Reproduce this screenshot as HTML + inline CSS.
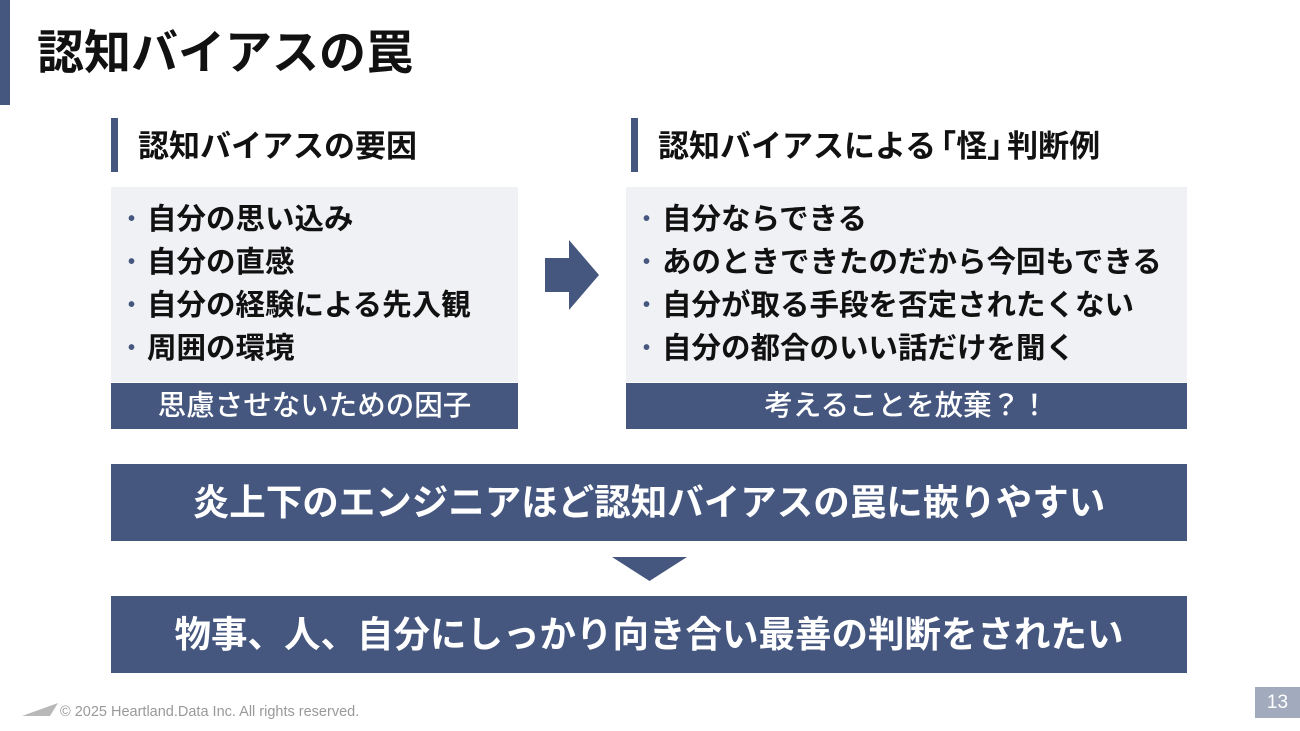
<!DOCTYPE html>
<html><head><meta charset="utf-8"><style>
body{margin:0;width:1300px;height:731px;background:#fff;position:relative;overflow:hidden;font-family:"Liberation Sans","Noto Sans CJK JP",sans-serif;}
div{position:absolute;box-sizing:border-box}
.blue{background:#46577f}
.t{font-weight:bold;color:#111;white-space:nowrap}
.box{background:#f0f1f5}
.li{font-size:29.5px;font-weight:bold;color:#111;white-space:nowrap;line-height:43px}
.li span{color:#46577f;font-size:20px;margin-right:12px;vertical-align:4px}
.foot{color:#fff;font-size:28.5px;font-weight:500;text-align:center;line-height:46px;white-space:nowrap}
.ban{color:#fff;font-size:36.5px;font-weight:bold;text-align:center;line-height:77px;white-space:nowrap}
.bl{margin-left:-11px}.br{margin-right:-11px}
</style></head><body>
<div class="blue" style="left:0;top:0;width:10px;height:105px"></div>
<div class="t" style="left:37px;top:23px;font-size:47px;line-height:60px">認知バイアスの罠</div>

<div class="blue" style="left:111px;top:118px;width:7px;height:54px"></div>
<div class="t" style="left:138px;top:127px;font-size:31px;line-height:40px">認知バイアスの要因</div>
<div class="blue" style="left:631px;top:118px;width:7px;height:54px"></div>
<div class="t" style="left:658px;top:127px;font-size:31px;line-height:40px">認知バイアスによる<span class="bl">「</span>怪<span class="br">」</span>判断例</div>

<div class="box" style="left:111px;top:187px;width:407px;height:195px"></div>
<div style="left:128px;top:198px">
<div class="li" style="position:static"><span>•</span>自分の思い込み</div>
<div class="li" style="position:static"><span>•</span>自分の直感</div>
<div class="li" style="position:static"><span>•</span>自分の経験による先入観</div>
<div class="li" style="position:static"><span>•</span>周囲の環境</div>
</div>
<div class="blue foot" style="left:111px;top:383px;width:407px;height:46px">思慮させないための因子</div>

<div class="box" style="left:626px;top:187px;width:561px;height:195px"></div>
<div style="left:643px;top:198px">
<div class="li" style="position:static"><span>•</span>自分ならできる</div>
<div class="li" style="position:static"><span>•</span>あのときできたのだから今回もできる</div>
<div class="li" style="position:static"><span>•</span>自分が取る手段を否定されたくない</div>
<div class="li" style="position:static"><span>•</span>自分の都合のいい話だけを聞く</div>
</div>
<div class="blue foot" style="left:626px;top:383px;width:561px;height:46px">考えることを放棄？！</div>

<svg style="position:absolute;left:545px;top:240px" width="54" height="70"><polygon points="0,18 24,18 24,0 54,35 24,70 24,52 0,52" fill="#46577f"/></svg>

<div class="blue ban" style="left:111px;top:464px;width:1076px;height:77px">炎上下のエンジニアほど認知バイアスの罠に嵌りやすい</div>
<svg style="position:absolute;left:612px;top:557px" width="75" height="24"><polygon points="0,0 75,0 37.5,24" fill="#46577f"/></svg>
<div class="blue ban" style="left:111px;top:596px;width:1076px;height:77px">物事、人、自分にしっかり向き合い最善の判断をされたい</div>

<svg style="position:absolute;left:22px;top:703px" width="36" height="14"><polygon points="0,13 36,0 28,13" fill="#b8b8b8"/></svg>
<div style="left:60px;top:703px;font-size:14.5px;color:#999;white-space:nowrap;line-height:18px">© 2025 Heartland.Data Inc. All rights reserved.</div>
<div style="left:1255px;top:687px;width:45px;height:31px;background:#a2aabd;color:#fff;font-size:19px;text-align:center;line-height:31px">13</div>
</body></html>
